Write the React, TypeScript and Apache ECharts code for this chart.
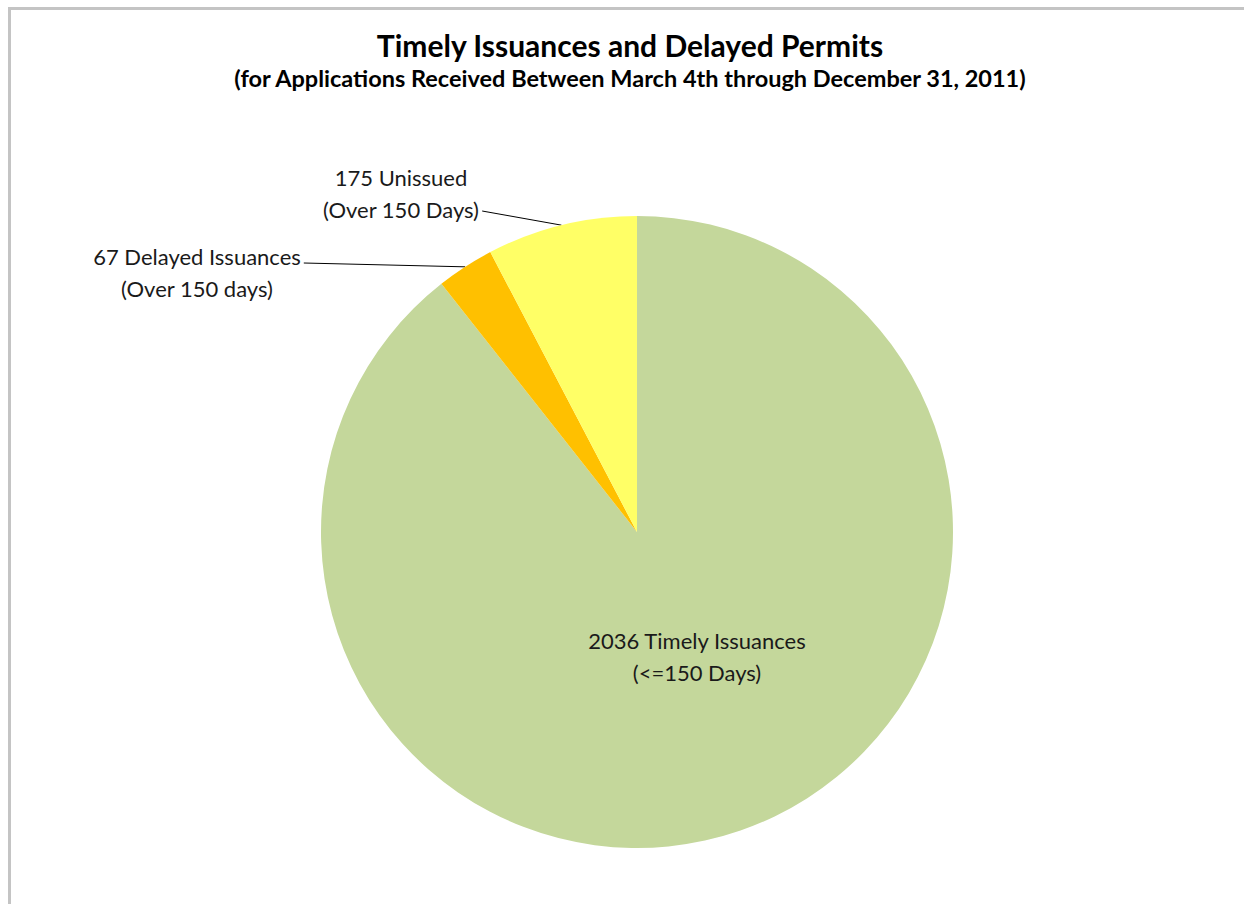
import React, { useEffect, useRef } from "react";
import * as echarts from "echarts";

const categories = ["Timely Issuances", "Delayed Issuances", "Unissued"];
const values = [2036, 67, 175];
const labelTexts = [
  "2036 Timely Issuances\n(<=150 Days)",
  "67 Delayed Issuances\n(Over 150 days)",
  "175 Unissued\n(Over 150 Days)",
];
const colors = ["#C4D79B", "#FFC000", "#FFFF66"];
const titleText = "Timely Issuances and Delayed Permits";
const subtitleText = "(for Applications Received Between March 4th through December 31, 2011)";

const FONT = "Lato, 'Open Sans', sans-serif";

export default function App() {
  const ref = useRef<HTMLDivElement>(null);
  useEffect(() => {
    document.body.style.margin = "0";
    const chart = echarts.init(ref.current!, null, { renderer: "svg" });
    const labelPos = [
      { x: 697, y: 624, padding: [0, 0, 0, 0] },
      { x: 197, y: 222, padding: [18, 3, 0, 3] },
      { x: 401, y: 161, padding: [0, 3, 36, 3] },
    ];
    chart.setOption({
      animation: false,
      backgroundColor: "#ffffff",
      title: {
        text: titleText,
        subtext: subtitleText,
        left: 625,
        top: 25,
        textAlign: "center",
        itemGap: 6,
        textStyle: { fontFamily: FONT, fontSize: 30, fontWeight: "bold", color: "#000000" },
        subtextStyle: { fontFamily: FONT, fontSize: 23.5, fontWeight: "bold", color: "#000000" },
      },
      graphic: [
        {
          type: "rect",
          shape: { x: 9.5, y: 8.5, width: 1300, height: 1000 },
          style: { fill: "none", stroke: "#C4C4C4", lineWidth: 3 },
          silent: true,
        },
      ],
      series: [
        {
          type: "pie",
          center: [637, 532],
          radius: [0, 316],
          startAngle: 90,
          clockwise: true,
          avoidLabelOverlap: false,
          itemStyle: { borderWidth: 0 },
          label: {
            show: true,
            fontFamily: FONT,
            fontSize: 22,
            color: "#1a1a1a",
            lineHeight: 32,
            align: "center",
            formatter: (p: any) => labelTexts[p.dataIndex],
          },
          labelLine: {
            show: true,
            length: 20,
            length2: 0,
            smooth: false,
            lineStyle: { color: "#000000", width: 1 },
          },
          labelLayout: (p: any) => {
            const l = labelPos[p.dataIndex];
            return { x: l.x, y: l.y, align: "center", verticalAlign: "top" };
          },
          data: categories.map((c, i) => ({
            name: c,
            value: values[i],
            itemStyle: { color: colors[i] },
            label:
              i === 0
                ? { position: "inside" }
                : { position: "outside", padding: labelPos[i].padding },
            labelLine: { show: i !== 0 },
          })),
        },
      ],
    });
    return () => chart.dispose();
  }, []);
  return <div ref={ref} style={{ width: 1244, height: 904 }} />;
}
